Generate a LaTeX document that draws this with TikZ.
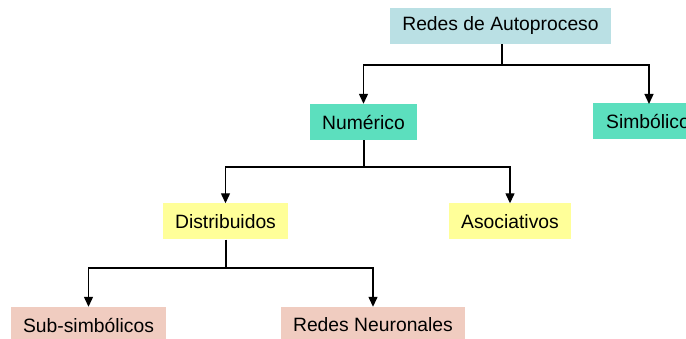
\documentclass[tikz,border=0pt]{standalone}
\usepackage{fontspec}
\setmainfont{Liberation Sans}
\usetikzlibrary{arrows.meta}
\definecolor{cTop}{RGB}{186,224,228}
\definecolor{cGreen}{RGB}{92,223,190}
\definecolor{cYellow}{RGB}{255,255,153}
\definecolor{cPink}{RGB}{240,204,192}
\begin{document}
\begin{tikzpicture}[x=1pt,y=-1pt,
  box/.style={inner sep=0pt, minimum height=36pt, font=\fontsize{19.3}{23}\selectfont, text=black},
  conn/.style={line width=1.3pt, -{Triangle[length=10pt,width=9pt]}},
  stem/.style={line width=1.3pt}]
\useasboundingbox (0,0) rectangle (686,339);
\begin{scope}
\clip (0,0) rectangle (686,339);
\node[box, fill=cTop, minimum width=221pt] (top) at (500.5,26) {Redes de Autoproceso};
\node[box, fill=cGreen, minimum width=107pt] (num) at (363.5,122) {Numérico};
\node[box, fill=cGreen, anchor=west, inner xsep=13pt, minimum width=0pt] (sim) at (593,121.5) {Simbólico};
\node[box, fill=cYellow, minimum width=125pt] (dis) at (225.5,221.5) {Distribuidos};
\node[box, fill=cYellow, minimum width=122pt] (aso) at (510,221.5) {Asociativos};
\node[box, fill=cPink, minimum width=155pt] (sub) at (88.5,325) {Sub-simbólicos};
\node[box, fill=cPink, minimum width=184pt] (rn) at (373,325) {Redes Neuronales};
\end{scope}
\coordinate (j1) at (502,65);
\coordinate (j2) at (364,167);
\coordinate (j3) at (226,268);
\draw[stem] (top.south -| j1) -- (j1);
\draw[conn] (j1) -| (num.north);
\draw[conn] (j1) -| (649,104);
\draw[stem] (num.south -| j2) -- (j2);
\draw[conn] (j2) -| (dis.north);
\draw[conn] (j2) -| (aso.north);
\draw[stem] (dis.south -| j3) -- (j3);
\draw[conn] (j3) -| (sub.north);
\draw[conn] (j3) -| (rn.north);
\end{tikzpicture}
\end{document}
